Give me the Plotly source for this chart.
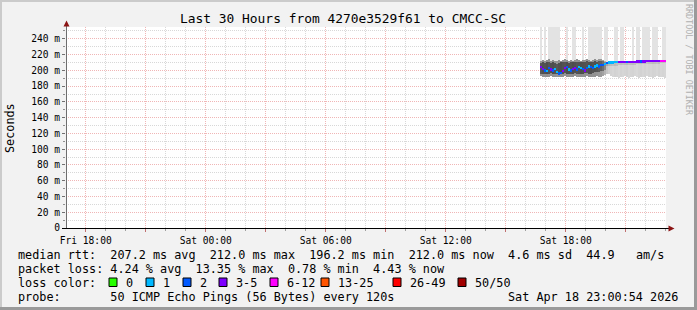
import plotly.graph_objects as go
import pandas as pd

# ---------------- data ----------------
title_text = "Last 30 Hours from 4270e3529f61 to CMCC-SC"
x_start = "2026-04-17 17:00:54"
x_end = "2026-04-18 23:00:54"
first_col_time = "2026-04-18 16:45:54"
col_minutes = 6

x_tick_vals = ["2026-04-17 18:00", "2026-04-17 21:00", "2026-04-18 00:00", "2026-04-18 03:00",
               "2026-04-18 06:00", "2026-04-18 09:00", "2026-04-18 12:00", "2026-04-18 15:00",
               "2026-04-18 18:00", "2026-04-18 21:00"]
x_tick_text = ["Fri 18:00", "", "Sat 00:00", "", "Sat 06:00", "", "Sat 12:00", "", "Sat 18:00", ""]
y_tick_vals = [0, 20, 40, 60, 80, 100, 120, 140, 160, 180, 200, 220, 240]
y_tick_text = ["0", "20 m", "40 m", "60 m", "80 m", "100 m", "120 m", "140 m", "160 m",
               "180 m", "200 m", "220 m", "240 m"]

median_ms = [204, 202, 200, 199, 203, 201, 200, 202, 198, 196.2, 197, 199, 203, 204, 201, 200,
             202, 203, 201, 204, 203, 202, 200, 203, 205, 204, 203, 205, 206, 205, 207, 207, 208,
             209.5, 210, 210, 210.2, 210.3, 210.4, 210.5, 210.6, 210.6, 210.7, 210.8, 210.8, 210.9,
             211, 211, 211.1, 211.2, 211.2, 211.3, 211.4, 211.5, 211.5, 211.6, 211.7, 211.8, 211.8,
             211.9, 212, 212, 212]
loss_pings = [4, 4, 2, 1, 2, 4, 2, 1, 1, 2, 2, 4, 4, 2, 1, 2, 4, 4, 2, 1, 1, 2, 4, 2, 1, 2, 2, 1,
              1, 2, 2, 2, 1,
              2, 1, 1, 1, 1, 1, 4, 4, 4, 4, 2, 4, 4, 4, 4, 4, 4, 2, 4, 4, 4, 4, 4, 4, 4, 4, 4, 8, 8, 8]
ping_min = [193, 192, 192, 191, 192, 193, 192, 191, 192, 191, 191, 192, 193, 192, 192, 191, 192,
            193, 192, 192, 191, 192, 192, 193, 192, 192, 191, 192, 193, 192, 192, 193, 194,
            196, 195, 193, 192, 191, 192, 190, 192, 191, 193, 192, 190, 191, 192, 193, 191, 190,
            192, 191, 192, 193, 191, 192, 190, 191, 193, 192, 191, 192, 190]
core_lo = [196, 195, 196, 195, 196, 197, 196, 195, 195, 194, 195, 196, 197, 196, 195, 196, 196,
           197, 196, 196, 195, 196, 197, 197, 196, 196, 197, 198, 198, 198, 199, 199, 200,
           205, 205, 206, 206, 206, 206, 207, 207, 207, 207, 207, 207, 207, 207, 207, 208, 208,
           208, 208, 208, 208, 208, 208, 208, 208, 208, 208, 209, 209, 209]
core_hi = [209, 210, 209, 210, 211, 209, 210, 209, 208, 209, 210, 210, 211, 210, 209, 210, 210,
           211, 211, 210, 210, 211, 211, 212, 211, 210, 211, 212, 211, 212, 212, 212, 211,
           209.5, 210, 210, 210.2, 210.3, 210.4, 210.5, 210.6, 210.6, 210.7, 210.8, 210.8, 210.9,
           211, 211, 211.1, 211.2, 211.2, 211.3, 211.4, 211.5, 211.5, 211.6, 211.7, 211.8, 211.8,
           211.9, 212, 212, 212]
band_hi = [212, 213, 212, 213, 214, 212, 213, 212, 212, 213, 212, 213, 214, 213, 212, 213, 212,
           213, 214, 213, 212, 213, 213, 214, 213, 212, 213, 214, 213, 214, 214, 213, 212,
           210, 210.5, 210.5, 210.7, 210.8, 210.9, 211, 211.1, 211.1, 211.2, 211.3, 211.3, 211.4,
           211.5, 211.5, 211.6, 211.7, 211.7, 211.8, 211.9, 212, 212, 212.1, 212.2, 212.3, 212.3,
           212.4, 212.5, 212.5, 212.5]
ping_max = [340, 213, 298, 213, 365, 310, 402, 330, 288, 356, 212, 213, 214, 318, 212, 213, 296,
            344, 214, 213, 212, 327, 213, 214, 381, 305, 349, 292, 366, 314, 338, 213, 301,
            352, 210.5, 210.5, 210.7, 333, 297, 211, 376, 309, 211.2, 211.3, 211.3, 211.4, 288,
            211.5, 341, 362, 211.7, 318, 395, 303, 327, 212.1, 356, 291, 372, 212.4, 212.5, 344, 316]
smoke_density = [0.82, 0.86, 0.85, 0.88, 0.84, 0.86, 0.87, 0.85, 0.83, 0.86, 0.88, 0.85, 0.84,
                 0.87, 0.86, 0.85, 0.88, 0.86, 0.84, 0.85, 0.87, 0.86, 0.85, 0.84, 0.86, 0.87,
                 0.85, 0.86, 0.84, 0.80, 0.78, 0.70, 0.55,
                 0.40, 0.30, 0.26, 0.24, 0.27, 0.25, 0.23, 0.26, 0.24, 0.25, 0.27, 0.23, 0.25,
                 0.26, 0.24, 0.22, 0.25, 0.27, 0.24, 0.26, 0.23, 0.25, 0.24, 0.26, 0.25, 0.23,
                 0.26, 0.24, 0.25, 0.24]

loss_labels = ["0", "1", "2", "3-5", "6-12", "13-25", "26-49", "50/50"]
loss_upper = [0, 1, 2, 5, 12, 25, 49, 50]
loss_colors = ["#26ff00", "#00b8ff", "#0059ff", "#7e00ff", "#ff00ff", "#ff5500", "#ff0000", "#a10000"]

line_median = "median rtt:  207.2 ms avg  212.0 ms max  196.2 ms min  212.0 ms now  4.6 ms sd  44.9   am/s"
line_loss = "packet loss: 4.24 % avg  13.35 % max  0.78 % min  4.43 % now"
line_probe = "probe:       50 ICMP Echo Pings (56 Bytes) every 120s"
stamp_text = "Sat Apr 18 23:00:54 2026"
y_title = "Seconds"
watermark = "RRDTOOL / TOBI OETIKER"

# ---------------- geometry helpers ----------------
W, H = 697, 310
PL, PR, PT, PB = 66, 666, 27, 228
Y_MAX = 255.0


def px(xp):
    return (xp - PL) / (PR - PL)


def py(yp):
    return (PB - yp) / (PB - PT)


MONO = "DejaVu Sans Mono"

times = pd.date_range(first_col_time, periods=len(median_ms), freq=f"{col_minutes}min")
bar_w = col_minutes * 60 * 1000


def gray(v):
    v = max(0, min(255, int(round(v))))
    return f"rgb({v},{v},{v})"


def loss_color(n):
    for ub, c in zip(loss_upper, loss_colors):
        if n <= ub:
            return c
    return loss_colors[-1]


fig = go.Figure()

# spikes (high outlier pings)
fig.add_trace(go.Bar(
    x=times, base=band_hi,
    y=[max(m - b, 0) for m, b in zip(ping_max, band_hi)],
    width=bar_w, marker=dict(color="#e3e3e3", line=dict(width=0)),
    hoverinfo="skip", showlegend=False))
# outer smoke
fig.add_trace(go.Bar(
    x=times, base=ping_min,
    y=[h - l for h, l in zip(band_hi, ping_min)],
    width=bar_w, marker=dict(color=[gray(240 - 110 * d) for d in smoke_density], line=dict(width=0)),
    hoverinfo="skip", showlegend=False))
# inner smoke
fig.add_trace(go.Bar(
    x=times, base=core_lo,
    y=[h - l for h, l in zip(core_hi, core_lo)],
    width=bar_w, marker=dict(color=[gray(235 - 180 * d) for d in smoke_density], line=dict(width=0)),
    hoverinfo="skip", showlegend=False))
# median
thick = 3.0
fig.add_trace(go.Bar(
    x=times, base=[m - thick / 2 for m in median_ms], y=[thick] * len(median_ms),
    width=bar_w, marker=dict(color=[loss_color(n) for n in loss_pings], line=dict(width=0)),
    hoverinfo="skip", showlegend=False))

grid_minor = "#d8d8d8"
grid_major = "#f0b6b6"

fig.update_layout(
    width=W, height=H,
    margin=dict(l=PL, r=W - PR, t=PT, b=H - PB, pad=0),
    paper_bgcolor="#f2f2f2", plot_bgcolor="#ffffff",
    barmode="overlay", bargap=0,
    showlegend=False,
    font=dict(family=MONO, color="#000000"),
    xaxis=dict(
        type="date", range=[x_start, x_end],
        tickmode="array", tickvals=x_tick_vals, ticktext=x_tick_text,
        showgrid=True, gridcolor=grid_major, griddash="1px,1px", gridwidth=1,
        ticks="outside", ticklen=3, tickcolor="#c07070", tickwidth=1,
        tickfont=dict(family=MONO, size=9.6, color="#000000"),
        minor=dict(dtick=3600000, tick0="2026-04-17 18:00", showgrid=True,
                   gridcolor=grid_minor, griddash="1px,1px", gridwidth=1,
                   ticks="outside", ticklen=2, tickcolor="#a0a0a0"),
        showline=False, zeroline=False, fixedrange=True,
    ),
    yaxis=dict(
        range=[0, Y_MAX],
        tickmode="array", tickvals=y_tick_vals, ticktext=y_tick_text,
        showgrid=True, gridcolor=grid_major, griddash="1px,1px", gridwidth=1,
        ticks="outside", ticklen=3, tickcolor="#707070",
        tickfont=dict(family=MONO, size=9.6, color="#000000"),
        minor=dict(dtick=10, showgrid=True, gridcolor=grid_minor, griddash="1px,1px",
                   ticks="outside", ticklen=2, tickcolor="#909090"),
        showline=False, zeroline=False, fixedrange=True,
    ),
)

shapes = []
# 3D frame
shapes.append(dict(type="rect", xref="paper", yref="paper", x0=px(0), x1=px(W), y0=py(0), y1=py(2),
                   fillcolor="#cbcbcb", line=dict(width=0), layer="below"))
shapes.append(dict(type="rect", xref="paper", yref="paper", x0=px(0), x1=px(2), y0=py(0), y1=py(H),
                   fillcolor="#cbcbcb", line=dict(width=0), layer="below"))
shapes.append(dict(type="rect", xref="paper", yref="paper", x0=px(0), x1=px(W), y0=py(H - 3), y1=py(H),
                   fillcolor="#9a9a9a", line=dict(width=0)))
shapes.append(dict(type="rect", xref="paper", yref="paper", x0=px(W - 3), x1=px(W), y0=py(0), y1=py(H),
                   fillcolor="#9a9a9a", line=dict(width=0)))
# axes
shapes.append(dict(type="line", xref="paper", yref="paper", x0=px(66.5), x1=px(66.5), y0=py(228), y1=py(25),
                   line=dict(color="#6e6e6e", width=1)))
shapes.append(dict(type="line", xref="paper", yref="paper", x0=px(62), x1=px(670), y0=py(228.5), y1=py(228.5),
                   line=dict(color="#000000", width=1)))
# arrows
shapes.append(dict(type="path", xref="paper", yref="paper",
                   path=f"M {px(63.5)} {py(26.5)} L {px(66.5)} {py(20.5)} L {px(69.5)} {py(26.5)} Z",
                   fillcolor="#8b1414", line=dict(width=0)))
shapes.append(dict(type="path", xref="paper", yref="paper",
                   path=f"M {px(668.5)} {py(225.5)} L {px(674.5)} {py(228.5)} L {px(668.5)} {py(231.5)} Z",
                   fillcolor="#8b1414", line=dict(width=0)))

annotations = []


def txt(x, y, s, size=11.8, anchor="left", color="#000000", angle=0, yanchor="middle"):
    annotations.append(dict(xref="paper", yref="paper", x=px(x), y=py(y), text=s, showarrow=False,
                            xanchor=anchor, yanchor=yanchor, textangle=angle,
                            font=dict(family=MONO, size=size, color=color)))


txt(343, 18.5, title_text, size=12.9, anchor="center")
txt(10, 128, y_title, size=11.8, anchor="center", angle=-90)
txt(689, 60, watermark, size=8.4, anchor="center", color="#b0b0b0", angle=90)
txt(16, 254.5, line_median.replace(" ", "&nbsp;"))
txt(16, 268.5, line_loss.replace(" ", "&nbsp;"))
txt(16, 282.5, "loss color:")
txt(16, 296.5, line_probe.replace(" ", "&nbsp;"))
txt(680, 296.5, stamp_text, anchor="right")

box_x = [109, 146, 183, 219, 270, 321, 393, 458]
for bx, lab, col in zip(box_x, loss_labels, loss_colors):
    shapes.append(dict(type="rect", xref="paper", yref="paper", x0=px(bx), x1=px(bx + 8),
                       y0=py(278), y1=py(286.5), fillcolor=col, line=dict(color="#000000", width=1)))
    txt(bx + 15, 282.5, lab)

fig.update_layout(shapes=shapes, annotations=annotations)
fig.write_html("out.html")
